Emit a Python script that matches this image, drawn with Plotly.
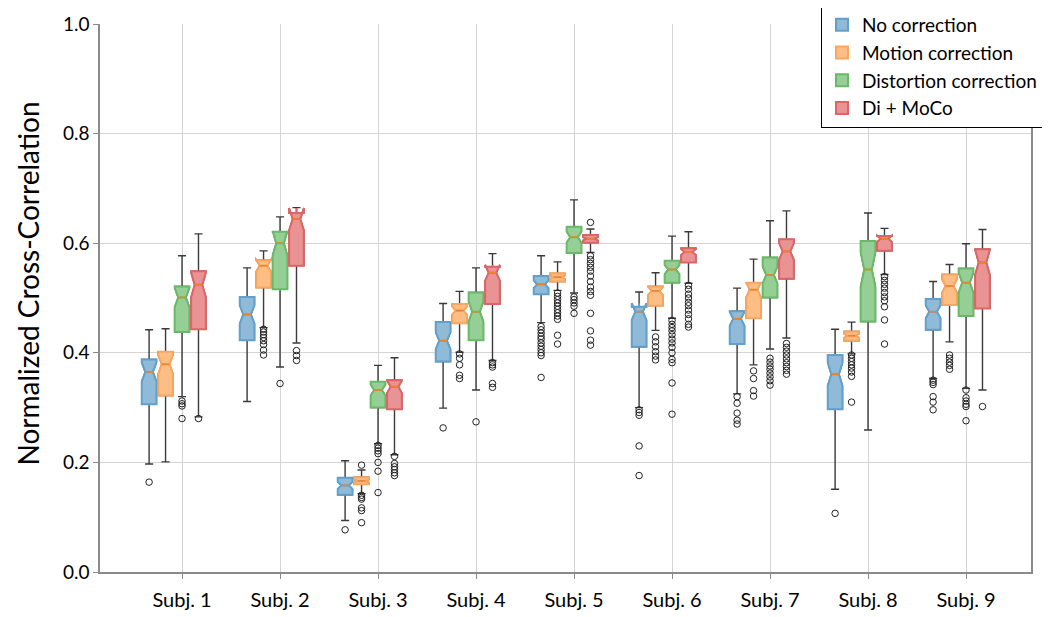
import math
import plotly.graph_objects as go

subjects = ["Subj. 1", "Subj. 2", "Subj. 3", "Subj. 4", "Subj. 5", "Subj. 6", "Subj. 7", "Subj. 8", "Subj. 9"]
groups = ["No correction", "Motion correction", "Distortion correction", "Di + MoCo"]

# No correction
nc_lo = [0.197, 0.311, 0.094, 0.299, 0.455, 0.300, 0.325, 0.151, 0.353]
nc_q1 = [0.306, 0.423, 0.141, 0.384, 0.507, 0.411, 0.416, 0.297, 0.442]
nc_med = [0.365, 0.470, 0.158, 0.422, 0.525, 0.475, 0.462, 0.361, 0.475]
nc_q3 = [0.388, 0.502, 0.172, 0.456, 0.540, 0.484, 0.476, 0.396, 0.498]
nc_hi = [0.442, 0.555, 0.203, 0.490, 0.577, 0.511, 0.518, 0.443, 0.530]
nc_out = [[0.164], [], [0.077], [0.263],
          [0.448, 0.442, 0.436, 0.430, 0.425, 0.418, 0.412, 0.406, 0.400, 0.395, 0.355],
          [0.296, 0.291, 0.286, 0.230, 0.176],
          [0.320, 0.308, 0.290, 0.277, 0.270],
          [0.107],
          [0.350, 0.346, 0.342, 0.320, 0.310, 0.296]]

# Motion correction
mc_lo = [0.201, 0.446, 0.143, 0.401, 0.514, 0.441, 0.378, 0.398, 0.420]
mc_q1 = [0.322, 0.519, 0.160, 0.454, 0.530, 0.486, 0.463, 0.422, 0.487]
mc_med = [0.379, 0.559, 0.166, 0.477, 0.538, 0.513, 0.515, 0.431, 0.522]
mc_q3 = [0.402, 0.569, 0.173, 0.489, 0.545, 0.521, 0.528, 0.439, 0.543]
mc_hi = [0.444, 0.586, 0.186, 0.512, 0.566, 0.546, 0.571, 0.456, 0.561]
mc_out = [[],
          [0.443, 0.438, 0.433, 0.428, 0.422, 0.415, 0.405, 0.396],
          [0.195, 0.140, 0.136, 0.133, 0.117, 0.112, 0.090],
          [0.398, 0.390, 0.378, 0.359, 0.353],
          [0.509, 0.503, 0.497, 0.491, 0.485, 0.479, 0.473, 0.467, 0.461, 0.432, 0.416],
          [0.429, 0.420, 0.411, 0.402, 0.394, 0.387],
          [0.367, 0.353, 0.331, 0.321],
          [0.396, 0.390, 0.384, 0.378, 0.372, 0.365, 0.357, 0.310],
          [0.396, 0.390, 0.383, 0.377, 0.370]]

# Distortion correction
dc_lo = [0.320, 0.374, 0.234, 0.332, 0.509, 0.463, 0.407, 0.259, 0.335]
dc_q1 = [0.438, 0.516, 0.300, 0.423, 0.582, 0.528, 0.501, 0.457, 0.467]
dc_med = [0.501, 0.600, 0.332, 0.475, 0.611, 0.552, 0.542, 0.552, 0.528]
dc_q3 = [0.521, 0.621, 0.347, 0.510, 0.630, 0.568, 0.574, 0.604, 0.554]
dc_hi = [0.577, 0.648, 0.377, 0.555, 0.679, 0.613, 0.641, 0.655, 0.599]
dc_out = [[0.312, 0.307, 0.303, 0.280],
          [0.344],
          [0.231, 0.226, 0.221, 0.216, 0.200, 0.184, 0.145],
          [0.274],
          [0.502, 0.497, 0.491, 0.485, 0.472],
          [0.459, 0.452, 0.446, 0.440, 0.433, 0.425, 0.418, 0.410, 0.400, 0.388, 0.382, 0.345, 0.288],
          [0.390, 0.383, 0.376, 0.370, 0.363, 0.356, 0.349, 0.341],
          [],
          [0.332, 0.318, 0.312, 0.306, 0.302, 0.276]]

# Di + MoCo
dm_lo = [0.283, 0.418, 0.214, 0.386, 0.583, 0.527, 0.427, 0.543, 0.332]
dm_q1 = [0.443, 0.559, 0.297, 0.489, 0.601, 0.565, 0.535, 0.586, 0.481]
dm_med = [0.524, 0.644, 0.338, 0.546, 0.608, 0.584, 0.585, 0.608, 0.565]
dm_q3 = [0.549, 0.655, 0.350, 0.557, 0.615, 0.591, 0.607, 0.613, 0.589]
dm_hi = [0.617, 0.665, 0.391, 0.581, 0.626, 0.621, 0.659, 0.627, 0.625]
dm_out = [[0.280],
          [0.404, 0.395, 0.386],
          [0.211, 0.198, 0.192, 0.187, 0.181, 0.176],
          [0.382, 0.378, 0.374, 0.344, 0.337],
          [0.638, 0.577, 0.570, 0.563, 0.556, 0.549, 0.540, 0.530, 0.520, 0.512, 0.505, 0.472, 0.440, 0.423, 0.414],
          [0.523, 0.516, 0.507, 0.500, 0.492, 0.486, 0.478, 0.470, 0.462, 0.452, 0.447],
          [0.417, 0.410, 0.403, 0.396, 0.389, 0.382, 0.375, 0.368, 0.361],
          [0.539, 0.532, 0.525, 0.518, 0.510, 0.502, 0.495, 0.484, 0.460, 0.416],
          [0.302]]

N_SAMPLES = 55  # samples per box, only used for notch size

series = [
    (groups[0], nc_lo, nc_q1, nc_med, nc_q3, nc_hi, nc_out),
    (groups[1], mc_lo, mc_q1, mc_med, mc_q3, mc_hi, mc_out),
    (groups[2], dc_lo, dc_q1, dc_med, dc_q3, dc_hi, dc_out),
    (groups[3], dm_lo, dm_q1, dm_med, dm_q3, dm_hi, dm_out),
]

fills = ["rgb(143,187,217)", "rgb(253,190,134)", "rgb(150,207,149)", "rgb(234,147,148)"]
edges = ["rgb(98,160,202)", "rgb(250,166,95)", "rgb(104,186,104)", "rgb(222,100,102)"]
offsets = [-0.336, -0.168, 0.0, 0.168]
BOX_W = 0.15
NOTCH_W = 0.24
FONT = "Lato, 'Open Sans', sans-serif"

fig = go.Figure()
xs = list(range(1, len(subjects) + 1))

layers_whisk, layers_box, layers_med, layers_out = [], [], [], []
for g, (name, lo, q1, med, q3, hi, out) in enumerate(series):
    pos = [k + offsets[g] for k in xs]
    notch = [1.57 * (b - a) / math.sqrt(N_SAMPLES) for a, b in zip(q1, q3)]

    # whiskers in dark grey (box outline gets covered by the coloured box)
    layers_whisk.append(go.Box(
        x=pos, q1=q1, median=med, q3=q3, lowerfence=lo, upperfence=hi,
        notched=True, notchspan=notch, notchwidth=NOTCH_W,
        width=BOX_W, whiskerwidth=0.55,
        line=dict(color="#3a3a3a", width=1.4), fillcolor="rgba(0,0,0,0)",
        boxpoints=False, showlegend=False, hoverinfo="skip"))

    layers_box.append(go.Box(
        x=pos, q1=q1, median=med, q3=q3, lowerfence=q1, upperfence=q3,
        notched=True, notchspan=notch, notchwidth=NOTCH_W,
        width=BOX_W, whiskerwidth=0,
        line=dict(color=edges[g], width=2), fillcolor=fills[g],
        boxpoints=False, name=name, showlegend=True))

    # orange median lines
    hw = BOX_W / 2 * (1 - 2 * NOTCH_W)
    mx, my = [], []
    for p, m in zip(pos, med):
        mx += [p - hw, p + hw, None]
        my += [m, m, None]
    layers_med.append(go.Scatter(x=mx, y=my, mode="lines",
                                 line=dict(color="rgb(240,130,40)", width=1.6),
                                 showlegend=False, hoverinfo="skip"))

    ox, oy = [], []
    for p, vals in zip(pos, out):
        ox += [p] * len(vals)
        oy += vals
    layers_out.append(go.Scatter(x=ox, y=oy, mode="markers",
                                 marker=dict(symbol="circle-open", size=6.5,
                                             color="#222222", line=dict(width=1)),
                                 showlegend=False, hoverinfo="y"))

for t in layers_whisk + layers_box + layers_med + layers_out:
    fig.add_trace(t)

# margins allow for the 8px body margin of the html page
fig.update_layout(
    width=1050, height=617,
    template="plotly_white",
    boxmode="overlay",
    paper_bgcolor="white", plot_bgcolor="white",
    margin=dict(l=92, r=27, t=16, b=53, autoexpand=False),
    font=dict(family=FONT, size=19, color="black"),
    xaxis=dict(range=[0.163, 9.663], tickvals=xs, ticktext=subjects, automargin=False,
               showgrid=True, gridcolor="#d4d4d4", gridwidth=1,
               showline=True, linecolor="#8a8a8a", linewidth=1.5,
               ticks="outside", ticklen=5, tickcolor="#8a8a8a",
               tickfont=dict(size=20), ticklabelstandoff=4, zeroline=False),
    yaxis=dict(range=[0, 1], dtick=0.2, tickformat=".1f", automargin=False,
               showgrid=True, gridcolor="#d4d4d4", gridwidth=1,
               showline=True, linecolor="#8a8a8a", linewidth=1.5, mirror=True,
               ticks="outside", ticklen=5, tickcolor="#8a8a8a",
               tickfont=dict(size=19), zeroline=False),
    legend=dict(x=1.0129, y=1.0347, xanchor="right", yanchor="top",
                bgcolor="white", bordercolor="black", borderwidth=1,
                font=dict(family=FONT, size=19), tracegroupgap=0),
    annotations=[dict(text="Normalized Cross-Correlation", textangle=-90,
                      xref="paper", yref="paper", x=-0.077, y=0.527,
                      xanchor="center", yanchor="middle", showarrow=False,
                      font=dict(family=FONT, size=28))],
)

fig.write_html("out.html")
